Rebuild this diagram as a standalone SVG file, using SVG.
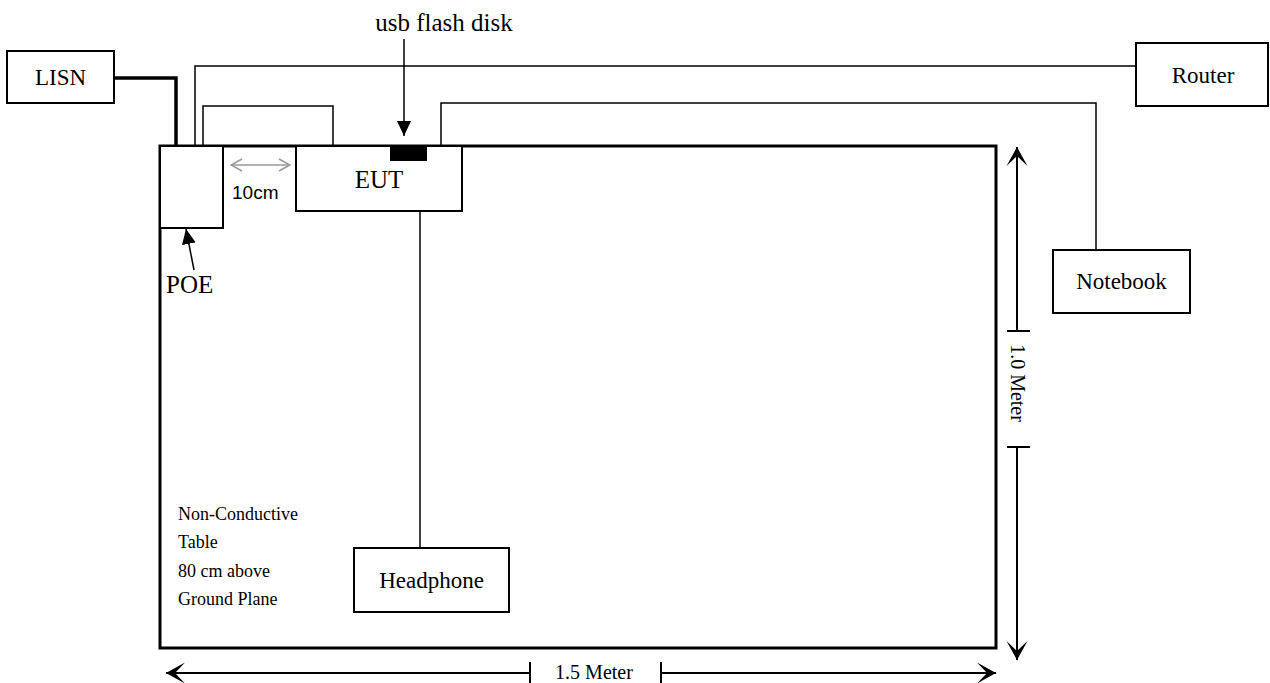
<svg xmlns="http://www.w3.org/2000/svg" width="1270" height="683" viewBox="0 0 1270 683">
<style>
.box{fill:#fff;stroke:#000;stroke-width:2}
.lbl{font-family:"Liberation Serif","Times New Roman",serif;font-size:23px;fill:#000;text-anchor:middle}
.note{font-family:"Liberation Serif","Times New Roman",serif;font-size:18px;fill:#000}
.dim{font-family:"Liberation Serif","Times New Roman",serif;font-size:20px;fill:#000;text-anchor:middle}
.wire{fill:none;stroke:#000;stroke-width:1.5}
.dline{fill:none;stroke:#000;stroke-width:2}
</style>
<defs>
<marker id="chev" viewBox="-20 -11 21 22" refX="0" refY="0" markerWidth="21" markerHeight="22" markerUnits="userSpaceOnUse" orient="auto">
<path d="M0,0 L-19,-10.5 L-9,0 L-19,10.5 Z" fill="#000"/>
</marker>
<marker id="tri" viewBox="-15 -7 15 14" refX="0" refY="0" markerWidth="15" markerHeight="14" markerUnits="userSpaceOnUse" orient="auto">
<path d="M0,0 L-15,-7 L-15,7 Z" fill="#000"/>
</marker>
<marker id="gchev" viewBox="-12 -7 13 14" refX="0" refY="0" markerWidth="13" markerHeight="14" markerUnits="userSpaceOnUse" orient="auto-start-reverse">
<path d="M-11,-6 L0,0 L-11,6" fill="none" stroke="#999" stroke-width="1.5"/>
</marker>
</defs>

<g id="table">
<rect x="160" y="146" width="836" height="502" fill="#fff" stroke="#000" stroke-width="3"/>
<text class="note" x="178" y="520">Non-Conductive</text>
<text class="note" x="178" y="548">Table</text>
<text class="note" x="178" y="577">80 cm above</text>
<text class="note" x="178" y="605">Ground Plane</text>
</g>

<g id="connectors">
<path d="M114,78 H176 V146" fill="none" stroke="#000" stroke-width="3.5"/>
<path class="wire" d="M195,146 V66 H1136"/>
<path class="wire" d="M203,146 V106 H333 V146"/>
<path class="wire" d="M441,146 V103 H1096 V250"/>
<path class="wire" d="M420,211 V548"/>
</g>

<g id="lisn">
<rect class="box" x="7" y="51" width="107" height="52"/>
<text class="lbl" x="60.5" y="85">LISN</text>
</g>

<g id="router">
<rect class="box" x="1136" y="43" width="132" height="63"/>
<text class="lbl" x="1203" y="83">Router</text>
</g>

<g id="notebook">
<rect class="box" x="1053" y="250" width="137" height="63"/>
<text class="lbl" x="1121.5" y="289">Notebook</text>
</g>

<g id="poe">
<rect class="box" x="160" y="146" width="63" height="82"/>
<line x1="194" y1="270" x2="186" y2="229" stroke="#000" stroke-width="1.5" marker-end="url(#tri)"/>
<text class="lbl" x="166" y="293" style="text-anchor:start;font-size:25px">POE</text>
</g>

<g id="eut">
<rect class="box" x="296" y="146" width="166" height="65"/>
<text class="lbl" x="379" y="188" style="font-size:25px">EUT</text>
</g>

<g id="usb">
<rect x="390" y="146" width="37" height="15" fill="#000"/>
<line x1="404" y1="39" x2="404" y2="136" stroke="#000" stroke-width="1.5" marker-end="url(#tri)"/>
<text class="lbl" x="444" y="31" style="font-size:25px">usb flash disk</text>
</g>

<g id="headphone">
<rect class="box" x="354" y="548" width="155" height="64"/>
<text class="lbl" x="431.5" y="588">Headphone</text>
</g>

<g id="spacing">
<line x1="231" y1="165" x2="290" y2="165" stroke="#999" stroke-width="1.5" marker-start="url(#gchev)" marker-end="url(#gchev)"/>
<text x="232" y="199" style="font-family:'Liberation Sans',Arial,sans-serif;font-size:19px;fill:#000">10cm</text>
</g>

<g id="dimensions">
<line class="dline" x1="1017" y1="331" x2="1017" y2="147" marker-end="url(#chev)"/>
<line class="dline" x1="1007" y1="331" x2="1030" y2="331"/>
<line class="dline" x1="1007" y1="447" x2="1030" y2="447"/>
<line class="dline" x1="1017" y1="447" x2="1017" y2="660" marker-end="url(#chev)"/>
<text class="dim" transform="translate(1011,383) rotate(90)" x="0" y="0">1.0 Meter</text>
<line class="dline" x1="530" y1="673" x2="166" y2="673" marker-end="url(#chev)"/>
<line class="dline" x1="530" y1="662" x2="530" y2="683"/>
<line class="dline" x1="661" y1="662" x2="661" y2="683"/>
<line class="dline" x1="661" y1="673" x2="996" y2="673" marker-end="url(#chev)"/>
<text class="dim" x="594" y="679">1.5 Meter</text>
</g>
</svg>
